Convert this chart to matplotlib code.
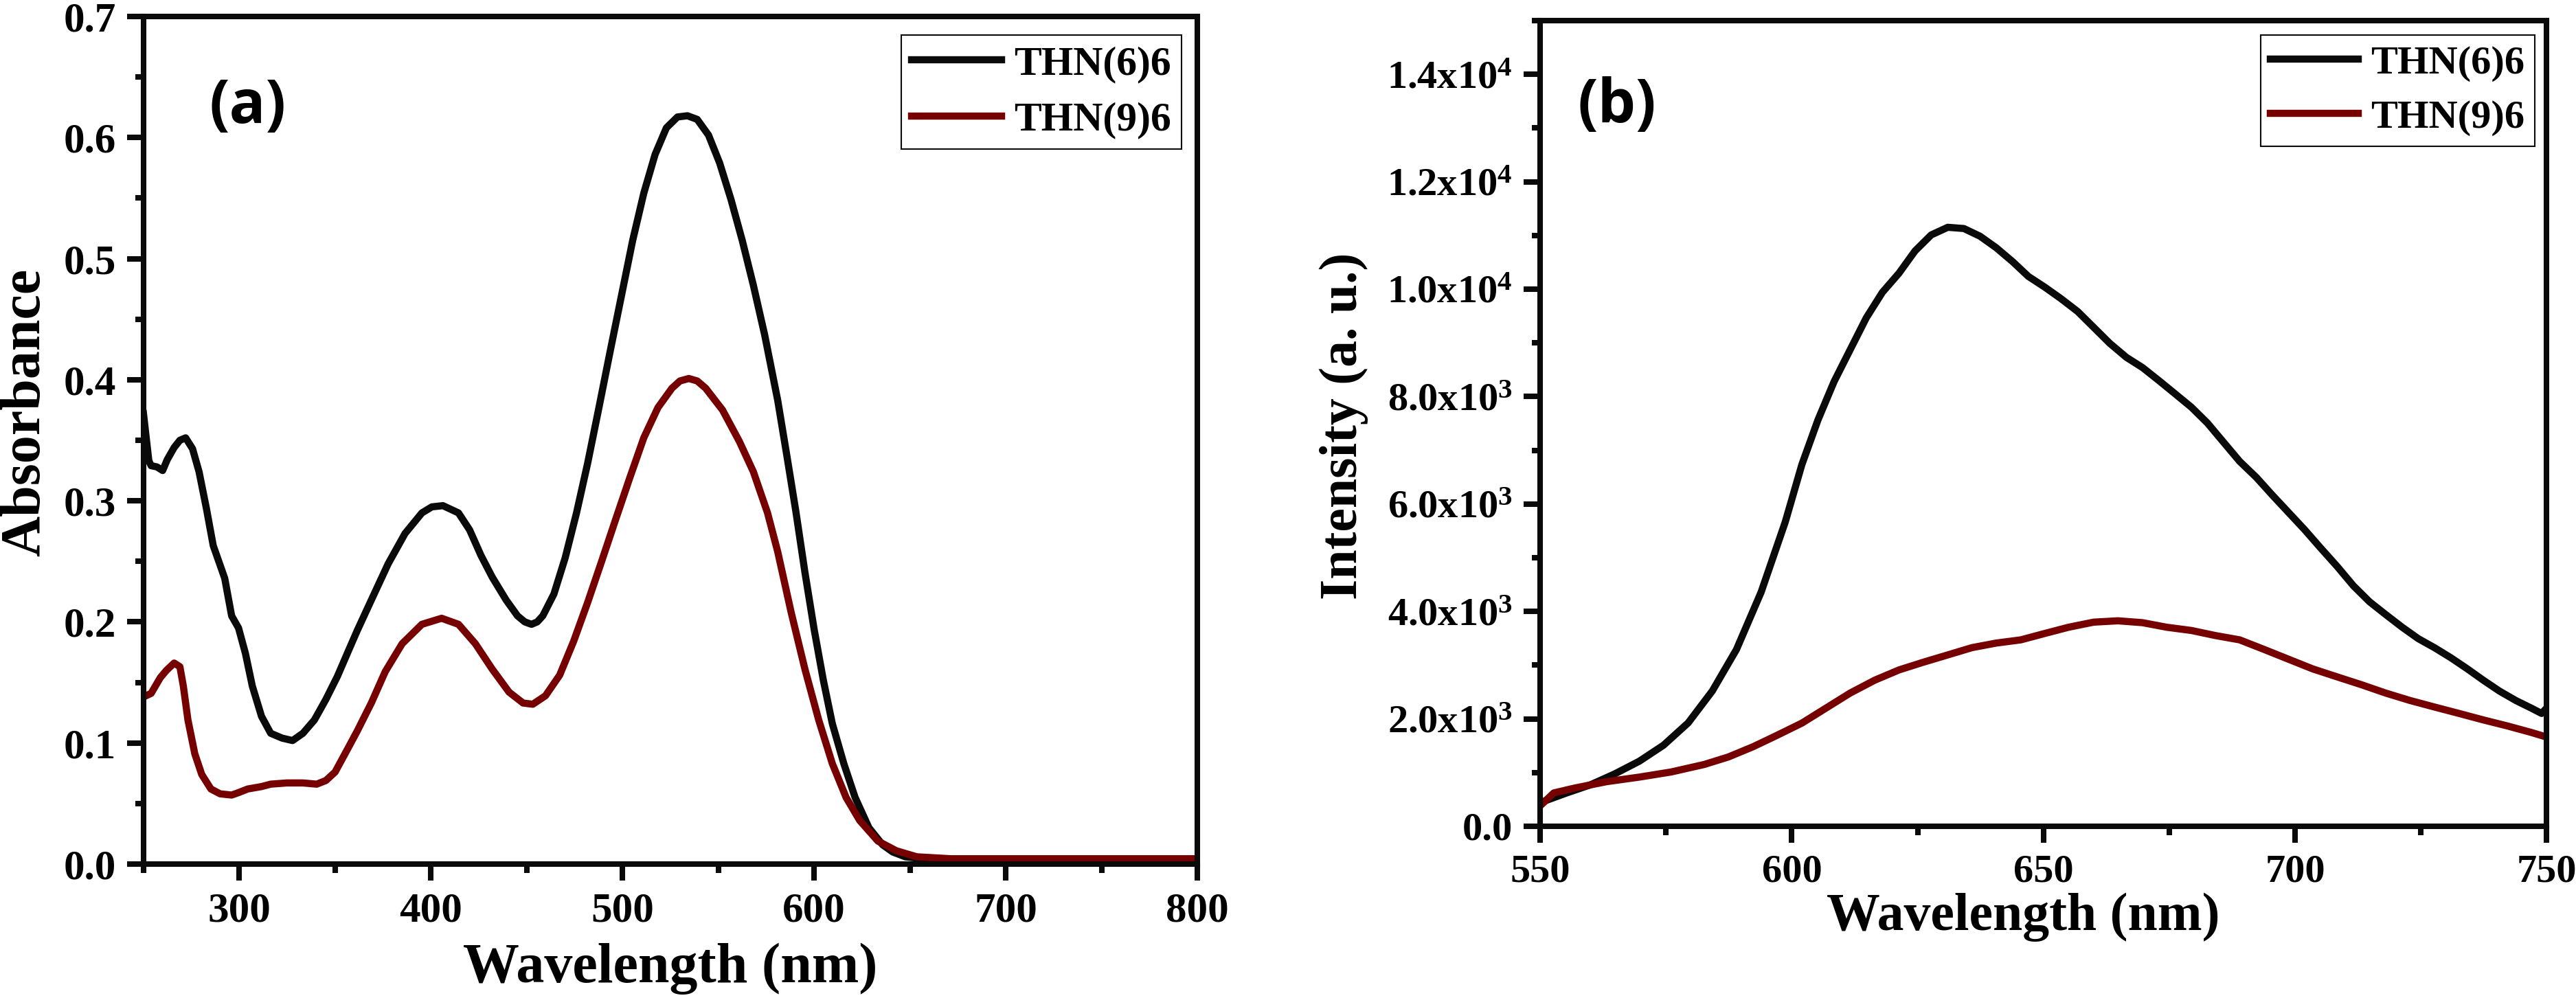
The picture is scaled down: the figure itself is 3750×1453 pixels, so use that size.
import matplotlib
matplotlib.use("Agg")
import matplotlib.pyplot as plt
from matplotlib.ticker import MultipleLocator, FuncFormatter

plt.rcParams['font.family'] = ['Liberation Serif', 'DejaVu Serif']
plt.rcParams['font.weight'] = 'bold'
plt.rcParams['mathtext.fontset'] = 'custom'
plt.rcParams['mathtext.rm'] = 'Liberation Serif:bold'
plt.rcParams['mathtext.bf'] = 'Liberation Serif:bold'
plt.rcParams['mathtext.default'] = 'rm'

black = '#0a0a0a'
red = '#760000'
labels = ['THN(6)6', 'THN(9)6']

# (a) absorption
wl_a6 = [250, 252.8, 254, 257, 260, 262.4, 266, 269, 272, 275.6, 279, 282.8, 286.4,
         292.4, 296, 299.6, 303.2, 306.8, 311.6, 316.4, 322.4, 327.8, 333.2, 339.2,
         345.2, 351.2, 357.2, 361.6, 368.9, 377.7, 386.5, 395.3, 400.5, 406.3, 414.4,
         420.2, 426.1, 432, 439.3, 445.2, 449, 452.5, 455.5, 458.4, 464.2, 470.1, 476,
         481.8, 487.7, 493.5, 499.4, 505.3, 511.1, 517, 522.9, 528.7, 533.9, 539,
         544.9, 550.7, 556.6, 562.5, 568.3, 574.2, 581, 585.7, 590.5, 595.2, 600,
         604.8, 609.5, 615.5, 621.4, 628.6, 635.7, 641, 647.6, 659.5, 700, 800]
abs_66 = [0.372, 0.333, 0.329, 0.328, 0.325, 0.334, 0.344, 0.350, 0.352, 0.343, 0.324,
          0.294, 0.263, 0.236, 0.205, 0.195, 0.174, 0.147, 0.122, 0.108, 0.104, 0.102,
          0.108, 0.119, 0.136, 0.155, 0.177, 0.193, 0.218, 0.248, 0.273, 0.290, 0.295,
          0.296, 0.290, 0.276, 0.255, 0.237, 0.218, 0.205, 0.200, 0.198, 0.200, 0.205,
          0.223, 0.253, 0.290, 0.331, 0.377, 0.423, 0.469, 0.515, 0.554, 0.586, 0.608,
          0.617, 0.618, 0.615, 0.602, 0.579, 0.549, 0.515, 0.478, 0.437, 0.383, 0.338,
          0.291, 0.241, 0.194, 0.152, 0.116, 0.083, 0.055, 0.030, 0.016, 0.010, 0.006,
          0.004, 0.003, 0.003]

wl_a9 = [250, 254, 258.8, 262, 266, 269, 270.8, 273.2, 276.8, 280.4, 285.2, 290, 296,
         299.6, 304.4, 311.6, 316.4, 324.8, 333.2, 340.4, 345.2, 350, 357.2, 361.6,
         368.9, 376.2, 385, 395.3, 405.6, 414.4, 423.2, 432, 440.8, 448.1, 453.2,
         459.8, 467.2, 474.5, 481.8, 489.1, 496.5, 503.8, 511.1, 518.5, 525.8, 530,
         534.6, 539, 543.4, 552.2, 561, 568.3, 575.7, 581, 588, 595.2, 602.4, 609.5,
         616.7, 623.8, 633.3, 642.9, 653.6, 671.4, 700, 800]
abs_96 = [0.138, 0.141, 0.154, 0.160, 0.166, 0.163, 0.147, 0.119, 0.091, 0.074, 0.062,
          0.058, 0.057, 0.059, 0.062, 0.064, 0.066, 0.067, 0.067, 0.066, 0.069, 0.076,
          0.097, 0.110, 0.133, 0.159, 0.182, 0.198, 0.203, 0.198, 0.182, 0.161, 0.142,
          0.133, 0.132, 0.139, 0.156, 0.184, 0.216, 0.250, 0.285, 0.319, 0.352, 0.377,
          0.393, 0.399, 0.401, 0.399, 0.393, 0.375, 0.349, 0.324, 0.290, 0.258, 0.208,
          0.161, 0.119, 0.083, 0.055, 0.036, 0.019, 0.011, 0.006, 0.0044, 0.0044, 0.0044]

# (b) emission
wl_b6 = [550, 555.2, 560, 564.8, 569.7, 574.5, 579.4, 584.2, 589, 593.9, 598.7, 602,
         605.2, 608.4, 611.6, 614.8, 618, 621.3, 624.5, 627.7, 631, 634.2, 637.4,
         640.6, 643.9, 647, 650.3, 653.5, 656.8, 660, 663.2, 666.5, 669.7, 672.9, 676,
         679.4, 682.6, 685.8, 689, 692.3, 695.5, 698.7, 701.9, 705, 708.4, 711.6,
         714.8, 718, 721.3, 724.5, 727.7, 731, 734.2, 737.4, 740.6, 743.9, 747, 749, 750]
int_66 = [440, 618, 772, 974, 1211, 1508, 1924, 2518, 3290, 4358, 5665, 6733, 7565,
          8278, 8872, 9465, 9940, 10297, 10712, 11009, 11151, 11128, 10985, 10772,
          10510, 10237, 10035, 9822, 9584, 9287, 8990, 8729, 8539, 8301, 8064, 7802,
          7506, 7149, 6793, 6496, 6164, 5843, 5522, 5190, 4834, 4477, 4180, 3943, 3705,
          3492, 3325, 3135, 2933, 2720, 2518, 2340, 2197, 2100, 2200]

wl_b9 = [550, 552.7, 556.8, 563.2, 569.7, 576, 582.6, 587.4, 592.3, 597, 602, 606.8,
         611.6, 616.5, 621.3, 626, 631, 635.8, 640.6, 645.5, 650.3, 655, 660, 664.8,
         669.7, 674.5, 679.4, 684.2, 689, 693.9, 698.7, 703.5, 708.4, 713.2, 718,
         722.9, 727.7, 732.6, 737.4, 742.3, 747, 750]
int_96 = [380, 620, 710, 830, 915, 1010, 1150, 1290, 1480, 1690, 1920, 2200, 2480,
          2720, 2910, 3050, 3190, 3325, 3410, 3470, 3590, 3705, 3800, 3825, 3790, 3705,
          3645, 3550, 3470, 3290, 3110, 2930, 2780, 2635, 2480, 2340, 2220, 2100, 1980,
          1865, 1745, 1660]

b_ticks = [0, 2000, 4000, 6000, 8000, 10000, 12000, 14000]
b_ticklabels = ['0.0', '2.0x$10^{3}$', '4.0x$10^{3}$', '6.0x$10^{3}$', '8.0x$10^{3}$',
                '1.0x$10^{4}$', '1.2x$10^{4}$', '1.4x$10^{4}$']

fig = plt.figure(figsize=(37.5, 14.53), dpi=100)
ax1 = fig.add_axes([0.0557, 0.1342, 0.4091, 0.8493])
ax2 = fig.add_axes([0.5979, 0.1721, 0.3907, 0.8073])

lw = 7.5


def style(ax, tsize):
    for s in ax.spines.values():
        s.set_linewidth(5.8)
        s.set_color(black)
    ax.tick_params(which='both', direction='out', width=5.8, color=black,
                   top=False, right=False, labelsize=tsize)
    ax.tick_params(which='major', length=17, pad=12)
    ax.tick_params(which='minor', length=9)


def legend(ax, anchor, size):
    leg = ax.legend(loc='upper right', bbox_to_anchor=anchor, borderaxespad=0,
                    fontsize=size, handlelength=2.2, handletextpad=0.3, borderpad=0.25,
                    labelspacing=0.45, fancybox=False, edgecolor=black, framealpha=1)
    leg.get_frame().set_linewidth(1.5)
    for h in leg.get_lines():
        h.set_linewidth(lw)


ax1.plot(wl_a6, abs_66, color=black, lw=lw, label=labels[0], solid_joinstyle='round')
ax1.plot(wl_a9, abs_96, color=red, lw=lw, label=labels[1], solid_joinstyle='round')
ax1.set_xlim(250, 800)
ax1.set_ylim(0, 0.7)
ax1.set_xticks(range(300, 801, 100))
ax1.xaxis.set_minor_locator(MultipleLocator(50))
ax1.yaxis.set_major_locator(MultipleLocator(0.1))
ax1.yaxis.set_minor_locator(MultipleLocator(0.05))
ax1.yaxis.set_major_formatter(FuncFormatter(lambda v, p: f'{v:.1f}'))
style(ax1, 44)
ax1.set_xlabel('Wavelength (nm)', fontsize=59, fontweight='bold')
ax1.set_ylabel('Absorbance', fontsize=59, fontweight='bold')
ax1.xaxis.set_label_coords(0.5, -0.093)
ax1.yaxis.set_label_coords(-0.087, 0.533)
ax1.text(0.099, 0.893, '(a)', transform=ax1.transAxes, family='Open Sans',
         fontweight='bold', fontsize=63, ha='center', va='center')
legend(ax1, (0.985, 0.978), 43)

ax2.plot(wl_b6, int_66, color=black, lw=lw, label=labels[0], solid_joinstyle='round')
ax2.plot(wl_b9, int_96, color=red, lw=lw, label=labels[1], solid_joinstyle='round')
ax2.set_xlim(550, 750)
ax2.set_ylim(0, 15000)
ax2.xaxis.set_major_locator(MultipleLocator(50))
ax2.xaxis.set_minor_locator(MultipleLocator(25))
ax2.set_yticks(b_ticks)
ax2.set_yticklabels(b_ticklabels)
ax2.yaxis.set_minor_locator(MultipleLocator(1000))
style(ax2, 42)
ax2.set_xlabel('Wavelength (nm)', fontsize=56, fontweight='bold')
ax2.set_ylabel('Intensity (a. u.)', fontsize=56, fontweight='bold')
ax2.xaxis.set_label_coords(0.48, -0.082)
ax2.yaxis.set_label_coords(-0.171, 0.497)
ax2.text(0.076, 0.893, '(b)', transform=ax2.transAxes, family='Open Sans',
         fontweight='bold', fontsize=63, ha='center', va='center')
legend(ax2, (0.988, 0.982), 42)

fig.savefig('out.png', dpi=100)
